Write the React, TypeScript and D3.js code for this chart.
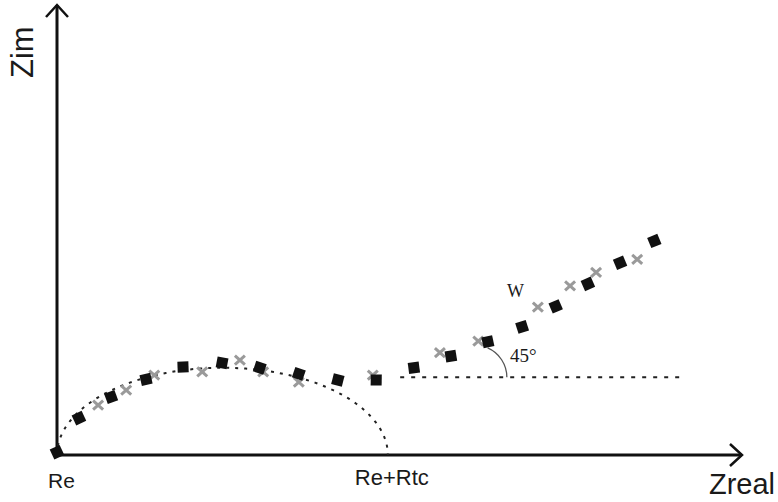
import React from 'react'
import * as d3 from 'd3'

// Nyquist-type sketch: Zreal vs Zim (arbitrary units)
const squarePts: [number, number][] = [
  [0, 0.4], [3.2, 5.4], [7.9, 8.5], [13.0, 11.1], [18.4, 12.9], [24.1, 13.5],
  [29.6, 12.8], [35.3, 11.9], [41.0, 11.0], [46.6, 11.0], [52.1, 12.8], [57.5, 14.5],
  [62.9, 16.6], [67.9, 18.8], [72.8, 21.8], [77.5, 25.1], [82.2, 28.2], [87.2, 31.4]
]

const crossPts: [number, number][] = [
  [6.0, 7.3], [10.1, 9.5], [14.2, 11.7], [21.2, 12.2], [26.7, 13.9], [30.1, 12.2],
  [35.3, 10.7], [46.1, 11.7], [55.9, 15.0], [61.5, 16.7], [70.2, 21.7], [74.9, 24.8],
  [78.7, 26.8], [84.7, 28.7]
]

const Re = 0
const Rtc = 48.3
const arcHeight = 12.8
const baseline = { from: 50.1, to: 91.4, y: 11.4 }
const angleVertex = 61.0
const xMax = 100
const yMax = 66

const W = 778, H = 502
const origin = { x: 57, y: 455 }

const App = () => {
  const x = d3.scaleLinear().domain([0, xMax]).range([origin.x, 742])
  const y = d3.scaleLinear().domain([0, yMax]).range([origin.y, 5])

  // depressed semicircle
  const cx = (Re + Rtc) / 2, rx = (Rtc - Re) / 2
  const semi = d3.range(0, 181, 2).map(deg => {
    const a = (deg * Math.PI) / 180
    return [cx - rx * Math.cos(a), arcHeight * Math.sin(a)] as [number, number]
  })
  const semiPath = d3.line<[number, number]>().x(d => x(d[0])).y(d => y(d[1]))(semi)

  // tilt each square a bit along the curve
  const rot = (i: number) => {
    const a = squarePts[Math.max(0, i - 1)]
    const b = squarePts[Math.min(squarePts.length - 1, i + 1)]
    const ang = Math.atan2(-(y(b[1]) - y(a[1])), x(b[0]) - x(a[0])) * 180 / Math.PI
    return -Math.max(-10, Math.min(35, ang)) + 10
  }

  const vx = x(angleVertex), vy = y(baseline.y)
  const r = 32
  const arc = d3.arc()({ innerRadius: r, outerRadius: r, startAngle: Math.PI / 2, endAngle: Math.PI / 2 - 1.16 }) as string

  const sans = '"Liberation Sans", Arial, sans-serif'
  const serif = '"Liberation Serif", "Times New Roman", serif'

  return (
    <svg width={W} height={H} style={{ position: 'absolute', left: 0, top: 0, background: '#fff' }}>
      {/* axes */}
      <line x1={x(0)} y1={y(0)} x2={x(xMax)} y2={y(0)} stroke="#111" strokeWidth={3} />
      <line x1={x(0)} y1={y(0)} x2={x(0)} y2={y(yMax)} stroke="#111" strokeWidth={3} />
      <polyline points={`${x(xMax) - 12},${y(0) - 11} ${x(xMax)},${y(0)} ${x(xMax) - 12},${y(0) + 11}`}
        fill="none" stroke="#111" strokeWidth={2.5} />
      <polyline points={`${x(0) - 11},${y(yMax) + 12} ${x(0)},${y(yMax)} ${x(0) + 11},${y(yMax) + 12}`}
        fill="none" stroke="#111" strokeWidth={2.5} />

      {/* dotted guides */}
      <path d={semiPath ?? ''} fill="none" stroke="#222" strokeWidth={2} strokeDasharray="3 6" />
      <line x1={x(baseline.from)} y1={y(baseline.y)} x2={x(baseline.to)} y2={y(baseline.y)}
        stroke="#222" strokeWidth={2} strokeDasharray="4 7" />
      <path d={arc} transform={`translate(${vx},${vy})`} fill="none" stroke="#555" strokeWidth={1.3} />

      {/* markers */}
      {crossPts.map((d, i) => (
        <g key={'c' + i} transform={`translate(${x(d[0])},${y(d[1])})`} stroke="#9a9a9a" strokeWidth={3}>
          <line x1={-5} y1={-4.5} x2={5} y2={4.5} />
          <line x1={-5} y1={4.5} x2={5} y2={-4.5} />
        </g>
      ))}
      {squarePts.map((d, i) => (
        <rect key={'s' + i} x={-5.5} y={-5.5} width={11} height={11} fill="#111"
          transform={`translate(${x(d[0])},${y(d[1])}) rotate(${rot(i)})`} />
      ))}

      {/* labels */}
      <text x={x(Re) - 9} y={488} fontFamily={sans} fontSize={21} fill="#1a1a1a">Re</text>
      <text x={x(Rtc) + 4} y={485} fontFamily={sans} fontSize={22} fill="#1a1a1a" textAnchor="middle">Re+Rtc</text>
      <text x={775} y={494} fontFamily={sans} fontSize={29} fill="#1a1a1a" textAnchor="end">Zreal</text>
      <text transform="translate(33,78) rotate(-90)" fontFamily={sans} fontSize={31} fill="#1a1a1a">Zim</text>
      <text x={507} y={297} fontFamily={serif} fontSize={18} fill="#1a1a1a">W</text>
      <text x={510} y={362} fontFamily={serif} fontSize={19} fill="#1a1a1a">45°</text>
    </svg>
  )
}

export default App
